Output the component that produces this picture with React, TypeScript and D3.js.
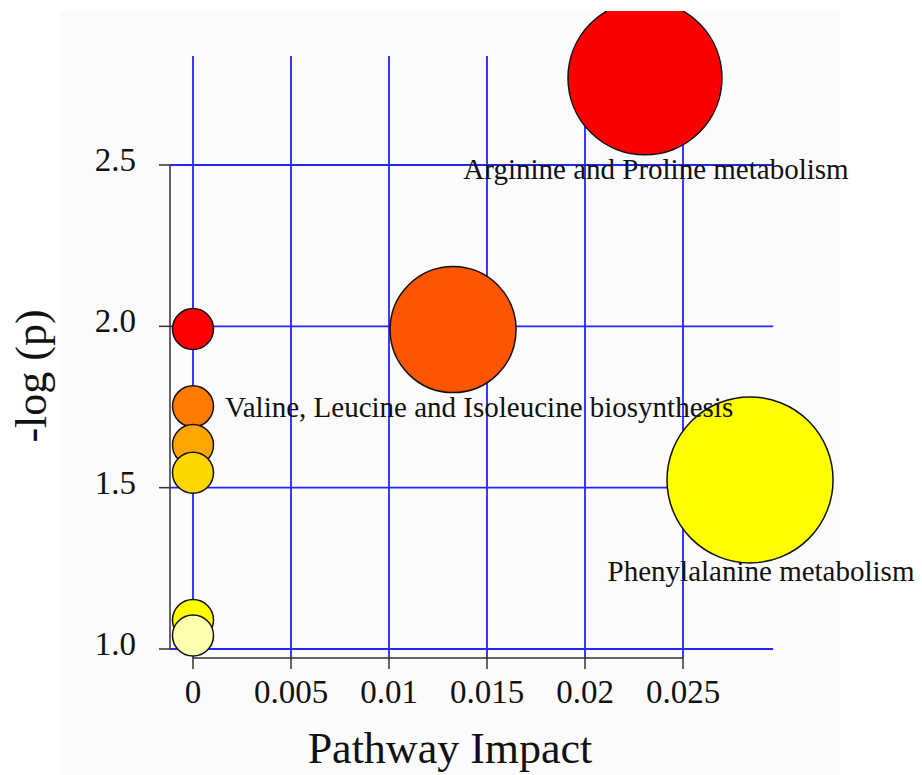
import React from "react";
import * as d3 from "d3";

const labels = [
  "Arginine and Proline metabolism",
  "",
  "Phenylalanine metabolism",
  "",
  "Valine, Leucine and Isoleucine biosynthesis",
  "",
  "",
  "",
  "",
];
const impact = [0.02306, 0.01327, 0.02842, 0, 0, 0, 0, 0, 0];
const logP = [2.77, 1.99, 1.524, 1.992, 1.752, 1.632, 1.546, 1.09, 1.042];
const bubbleSize = [14.1, 9.44, 16.4, 1, 1, 1, 1, 1, 1];
const colors = ["#fb0000", "#ff5500", "#ffff00", "#ff0000", "#ff7a00", "#ffa500", "#ffd700", "#ffff00", "#ffffb0"];
const labelPos = ["below", "", "below", "", "right", "", "", "", ""];

const xTicks = [0, 0.005, 0.01, 0.015, 0.02, 0.025];
const xTickLabels = ["0", "0.005", "0.01", "0.015", "0.02", "0.025"];
const yTicks = [1.0, 1.5, 2.0, 2.5];
const yTickLabels = ["1.0", "1.5", "2.0", "2.5"];

const W = 922;
const H = 775;
const FONT = "'Liberation Serif', 'DejaVu Serif', serif";

export default function App() {
  const x = d3.scaleLinear().domain([0, 0.025]).range([193, 683]);
  const y = d3.scaleLinear().domain([1, 2.5]).range([649, 165]);
  const r = d3.scaleSqrt().domain([0, 1]).range([0, 20.5]);

  const plotX0 = x(-0.00117);
  const plotX1 = x(0.0296);
  const plotY0 = y(2.838);
  const plotY1 = y(0.972);
  const axisY = 658;
  const axisX = 170;

  return (
    <svg
      width={W}
      height={H}
      viewBox={`0 0 ${W} ${H}`}
      style={{ position: "absolute", left: 0, top: 0, background: "#ffffff" }}
      fontFamily={FONT}
    >
      <defs>
        <clipPath id="topclip">
          <rect x={0} y={11} width={W} height={H - 11} />
        </clipPath>
      </defs>
      <rect x={0} y={0} width={W} height={H} fill="#ffffff" />
      <rect x={60} y={11} width={780} height={H - 11} fill="#fbfbfb" />

      {/* grid */}
      <g stroke="#2424ff" strokeWidth={1.8}>
        {xTicks.map((t, i) => (
          <line key={"gx" + i} x1={x(t)} x2={x(t)} y1={plotY0} y2={plotY1} />
        ))}
        {yTicks.map((t, i) => (
          <line key={"gy" + i} x1={plotX0} x2={plotX1} y1={y(t)} y2={y(t)} />
        ))}
      </g>

      {/* axes */}
      <g stroke="#333333" strokeWidth={1.5} fill="none">
        <line x1={axisX} x2={axisX} y1={y(1)} y2={y(2.5)} />
        {yTicks.map((t, i) => (
          <line key={"yt" + i} x1={axisX - 11} x2={axisX} y1={y(t)} y2={y(t)} />
        ))}
        <line x1={x(0)} x2={x(0.025)} y1={axisY} y2={axisY} />
        {xTicks.map((t, i) => (
          <line key={"xt" + i} x1={x(t)} x2={x(t)} y1={axisY} y2={axisY + 11} />
        ))}
      </g>

      {/* tick labels */}
      <g fontSize={33} fill="#111111">
        {yTicks.map((t, i) => (
          <text key={"yl" + i} x={136} y={y(t) + 6} textAnchor="end">
            {yTickLabels[i]}
          </text>
        ))}
        {xTicks.map((t, i) => (
          <text key={"xl" + i} x={x(t)} y={703} textAnchor="middle">
            {xTickLabels[i]}
          </text>
        ))}
      </g>

      {/* axis titles */}
      <text x={450} y={763} fontSize={44} textAnchor="middle" fill="#111111">
        Pathway Impact
      </text>
      <text
        transform={`translate(46, 376) rotate(-90)`}
        fontSize={44}
        textAnchor="middle"
        fill="#111111"
      >
        -log (p)
      </text>

      {/* bubbles */}
      <g clipPath="url(#topclip)">
        {impact.map((v, i) => (
          <circle
            key={"c" + i}
            cx={x(v)}
            cy={y(logP[i])}
            r={r(bubbleSize[i])}
            fill={colors[i]}
            stroke="#111111"
            strokeWidth={1.5}
          />
        ))}
      </g>

      {/* labels */}
      <g fontSize={29} fill="#111111">
        {labels.map((lab, i) => {
          if (!lab) return null;
          const cx = x(impact[i]);
          const cy = y(logP[i]);
          if (labelPos[i] === "right") {
            return (
              <text key={"l" + i} x={cx + 32} y={cy + 11} textAnchor="start">
                {lab}
              </text>
            );
          }
          return (
            <text key={"l" + i} x={cx + 11} y={cy + 101} textAnchor="middle">
              {lab}
            </text>
          );
        })}
      </g>
    </svg>
  );
}
